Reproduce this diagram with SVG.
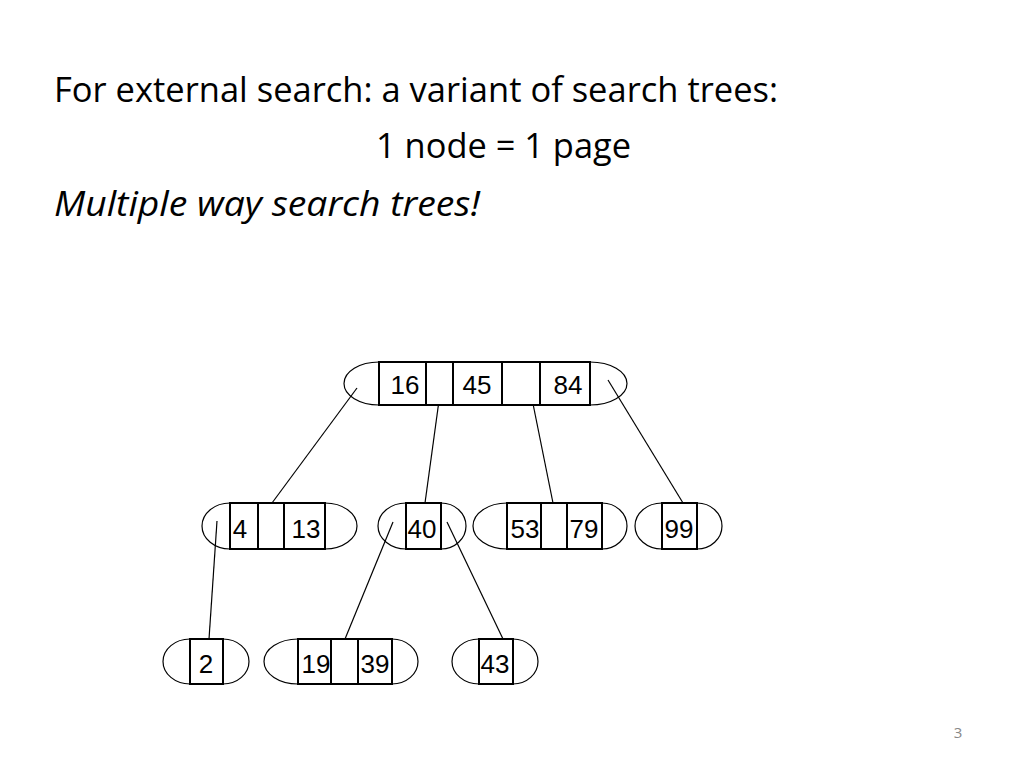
<svg xmlns="http://www.w3.org/2000/svg" width="1024" height="768" viewBox="0 0 1024 768">
<style>
.t{font-family:"Open Sans","Noto Sans","Liberation Sans",sans-serif;font-size:35px;fill:#000}
.k{font-family:"Liberation Sans",Arial,sans-serif;font-size:26px;fill:#000;text-anchor:middle}
.cell{fill:#fff;stroke:#000;stroke-width:2}
.cap{fill:none;stroke:#000;stroke-width:1.2}
.edge{stroke:#000;stroke-width:1.2;fill:none}
</style>
<rect width="1024" height="768" fill="#fff"/>
<text class="t" x="54" y="102" textLength="724" lengthAdjust="spacingAndGlyphs">For external search: a variant of search trees:</text>
<text class="t" x="376" y="158" textLength="255" lengthAdjust="spacingAndGlyphs">1 node = 1 page</text>
<text class="t" x="54" y="216" font-style="italic" textLength="426" lengthAdjust="spacingAndGlyphs">Multiple way search trees!</text>
<text x="958" y="738" font-family="'Open Sans','Liberation Sans',sans-serif" font-size="15" fill="#888" text-anchor="middle">3</text>

<g id="connectors">
<line class="edge" x1="357" y1="388" x2="272" y2="503"/>
<line class="edge" x1="441" y1="386" x2="425" y2="503"/>
<line class="edge" x1="528" y1="379" x2="553" y2="503"/>
<line class="edge" x1="608" y1="380" x2="683" y2="503"/>
<line class="edge" x1="217" y1="521" x2="209" y2="639"/>
<line class="edge" x1="393" y1="522" x2="345" y2="639"/>
<line class="edge" x1="447" y1="522" x2="503" y2="639"/>
</g>

<g id="root">
<path class="cap" d="M379,362 A35,21.5 0 0 0 379,405"/>
<path class="cap" d="M590,362 A37,21.5 0 0 1 590,405"/>
<rect class="cell" x="379" y="362" width="47" height="43"/>
<rect class="cell" x="426" y="362" width="27" height="43"/>
<rect class="cell" x="453" y="362" width="49" height="43"/>
<rect class="cell" x="502" y="362" width="38" height="43"/>
<rect class="cell" x="540" y="362" width="50" height="43"/>
<text class="k" x="405" y="394">16</text>
<text class="k" x="477" y="394">45</text>
<text class="k" x="568" y="394">84</text>
</g>

<g id="n4_13">
<path class="cap" d="M230,503 A28,23 0 0 0 230,549"/>
<path class="cap" d="M325,503 A32,23 0 0 1 325,549"/>
<rect class="cell" x="230" y="503" width="28" height="46"/>
<rect class="cell" x="258" y="503" width="26" height="46"/>
<rect class="cell" x="284" y="503" width="41" height="46"/>
<text class="k" x="240" y="538">4</text>
<text class="k" x="306" y="538">13</text>
</g>

<g id="n40">
<path class="cap" d="M406,503 A28,23 0 0 0 406,549"/>
<path class="cap" d="M441,503 A25,23 0 0 1 441,549"/>
<rect class="cell" x="406" y="503" width="35" height="46"/>
<text class="k" x="422" y="538">40</text>
</g>

<g id="n53_79">
<path class="cap" d="M507,503 A34,23 0 0 0 507,549"/>
<path class="cap" d="M602,503 A25,23 0 0 1 602,549"/>
<rect class="cell" x="507" y="503" width="34" height="46"/>
<rect class="cell" x="541" y="503" width="26" height="46"/>
<rect class="cell" x="567" y="503" width="35" height="46"/>
<text class="k" x="525" y="538">53</text>
<text class="k" x="584" y="538">79</text>
</g>

<g id="n99">
<path class="cap" d="M662,503 A27,23 0 0 0 662,549"/>
<path class="cap" d="M697,503 A25,23 0 0 1 697,549"/>
<rect class="cell" x="662" y="503" width="35" height="46"/>
<text class="k" x="679" y="538">99</text>
</g>

<g id="n2">
<path class="cap" d="M190,639 A27,22.5 0 0 0 190,684"/>
<path class="cap" d="M223,639 A26,22.5 0 0 1 223,684"/>
<rect class="cell" x="190" y="639" width="33" height="45"/>
<text class="k" x="206" y="673">2</text>
</g>

<g id="n19_39">
<path class="cap" d="M298,639 A34,22.5 0 0 0 298,684"/>
<path class="cap" d="M392,639 A26,22.5 0 0 1 392,684"/>
<rect class="cell" x="298" y="639" width="33" height="45"/>
<rect class="cell" x="331" y="639" width="27" height="45"/>
<rect class="cell" x="358" y="639" width="34" height="45"/>
<text class="k" x="316" y="673">19</text>
<text class="k" x="375" y="673">39</text>
</g>

<g id="n43">
<path class="cap" d="M479,639 A27,22.5 0 0 0 479,684"/>
<path class="cap" d="M513,639 A25,22.5 0 0 1 513,684"/>
<rect class="cell" x="479" y="639" width="34" height="45"/>
<text class="k" x="495" y="673">43</text>
</g>
</svg>
